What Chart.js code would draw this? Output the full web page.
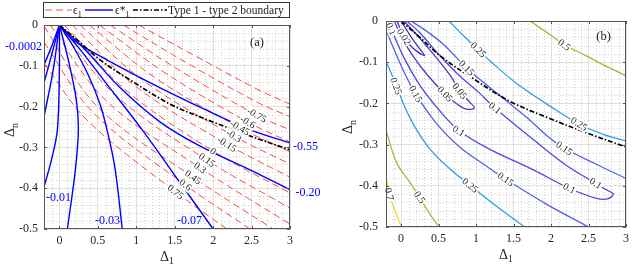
<!DOCTYPE html>
<html>
<head>
<meta charset="utf-8">
<script src="https://cdn.jsdelivr.net/npm/chart.js@4"></script>
<style>
  body { margin: 0; background: #fff; }
  #wrap { position: relative; width: 634px; height: 267px; }
  canvas { position: absolute; top: 0; }
</style>
</head>
<body>
<div id="wrap">
  <canvas id="chartA" width="320" height="267" style="left:0"></canvas>
  <canvas id="chartB" width="314" height="267" style="left:320px"></canvas>
</div>
<script>
// eixos (iguais nos dois paineis)
const xTicks = [0, 0.5, 1, 1.5, 2, 2.5, 3];
const yTicks = [0, -0.1, -0.2, -0.3, -0.4, -0.5];

// (a) contornos de eps1 - vermelho tracejado, pontos [Δ1, Δn]
const eps1Levels = [-1.05, -0.9, -0.75, -0.6, -0.45, -0.3, -0.15, 0, 0.15, 0.3, 0.45, 0.6, 0.75];
const eps1Lines = [
  [[1.03, 0], [1.77, -0.076], [2.57, -0.157], [3, -0.194]],
  [[0.83, 0], [1.64, -0.091], [2.57, -0.189], [3, -0.225]],
  [[0.66, 0], [1.51, -0.105], [2.57, -0.221], [3, -0.257]],
  [[0.52, 0], [1.38, -0.118], [2.45, -0.238], [3, -0.287]],
  [[0.39, 0], [1.25, -0.130], [2.35, -0.252], [3, -0.311]],
  [[0.27, 0], [1.12, -0.140], [2.27, -0.272], [3, -0.341]],
  [[0.17, 0], [0.99, -0.150], [2.18, -0.292], [3, -0.373]],
  [[0.065, 0], [0.86, -0.159], [2.0, -0.309], [3, -0.412]],
  [[-0.03, 0], [0.73, -0.172], [1.92, -0.331], [3, -0.449]],
  [[-0.12, 0], [0.60, -0.184], [1.83, -0.350], [3, -0.488]],
  [[-0.2, -0.003], [0.49, -0.199], [1.74, -0.373], [2.78, -0.5]],
  [[-0.2, -0.042], [0.43, -0.213], [1.64, -0.392], [2.48, -0.5]],
  [[-0.2, -0.093], [0.36, -0.233], [1.51, -0.409], [2.18, -0.5]]
];

// (a) contornos de eps*1 - azul continuo
const epsStarLines = [
  [[0, 0], [-0.09, -0.047], [-0.2, -0.098]],
  [[0, 0], [-0.09, -0.066], [-0.2, -0.142]],
  [[0, 0], [-0.08, -0.110], [-0.2, -0.225]],
  [[0, 0], [0, -0.110], [-0.026, -0.257], [-0.104, -0.331], [-0.2, -0.397]],
  [[0, 0], [0.117, -0.086], [0.221, -0.184], [0.247, -0.257], [0.208, -0.355], [0.104, -0.5]],
  [[0, 0], [0.169, -0.049], [0.377, -0.123], [0.532, -0.196], [0.636, -0.270], [0.727, -0.355], [0.818, -0.5]],
  [[0, 0], [0.273, -0.061], [0.597, -0.140], [1.078, -0.257], [1.545, -0.380], [2.0, -0.5]],
  [[0, 0], [0.338, -0.061], [0.792, -0.154], [1.312, -0.238], [1.831, -0.297], [2.481, -0.355], [3, -0.404]],
  [[0, 0], [0.182, -0.037], [0.623, -0.086], [1.312, -0.154], [1.961, -0.213], [2.481, -0.257], [3, -0.289]]
];
// rotulos azuis: texto, posicao, alinhamento
const epsStarNotes = [
  ['-0.0002', [-0.226, -0.054], 'right'],
  ['-0.01', [-0.174, -0.424], 'left'],
  ['-0.03', [0.463, -0.480], 'left'],
  ['-0.07', [1.529, -0.480], 'left'],
  ['-0.55', [3.04, -0.299], 'left'],
  ['-0.20', [3.07, -0.412], 'left']
];

// fronteira tipo 1 / tipo 2 (preto traco-ponto, nos dois paineis)
const boundary = [[0, 0], [0.247, -0.039], [0.532, -0.086], [0.922, -0.135], [1.442, -0.194], [1.961, -0.235], [2.481, -0.272], [3, -0.306]];

// (b) contornos por nivel
const c002 = [[-0.052, 0], [0.013, -0.028], [0.117, -0.058], [0.222, -0.075], [0.313, -0.084], [0.248, -0.067], [0.143, -0.041], [0.065, -0.019], [0, 0]];
const c005 = [[-0.091, 0], [0.013, -0.041], [0.156, -0.084], [0.352, -0.131], [0.587, -0.177], [0.743, -0.201], [0.874, -0.214], [0.978, -0.211], [0.900, -0.194], [0.782, -0.167], [0.639, -0.128], [0.430, -0.080], [0.222, -0.036], [0.039, 0]];
const c010 = [[-0.169, 0], [-0.078, -0.041], [0.039, -0.089], [0.248, -0.155], [0.508, -0.216], [0.769, -0.265], [1.160, -0.309], [1.773, -0.362], [2.243, -0.406], [2.595, -0.430], [2.751, -0.432], [2.830, -0.420], [2.699, -0.406], [2.595, -0.394], [2.203, -0.350], [1.773, -0.289], [1.252, -0.211], [1.030, -0.172], [0.769, -0.131], [0.508, -0.082], [0.248, -0.028], [0.078, 0]];
const c015lower = [[-0.2, -0.021], [-0.091, -0.070], [0.039, -0.123], [0.196, -0.177], [0.456, -0.245], [0.769, -0.304], [1.160, -0.355], [1.395, -0.384], [1.943, -0.445], [2.503, -0.5]];
const c015upper = [[0.130, 0], [0.313, -0.021], [0.574, -0.058], [0.874, -0.114], [1.160, -0.158], [1.421, -0.196], [1.682, -0.235], [1.982, -0.284], [2.177, -0.309], [2.595, -0.347], [3, -0.382]];
const c025lower = [[-0.2, -0.097], [-0.065, -0.155], [0.039, -0.204], [0.169, -0.252], [0.378, -0.309], [0.639, -0.357], [0.922, -0.399], [1.291, -0.452], [1.65, -0.5]];
const c025upper = [[0.639, 0], [0.834, -0.036], [1.030, -0.070], [1.199, -0.099], [1.551, -0.153], [1.982, -0.206], [2.373, -0.250], [2.725, -0.277], [3, -0.291]];
const c050lower = [[-0.2, -0.265], [-0.056, -0.345], [0.117, -0.391], [0.248, -0.428], [0.378, -0.467], [0.508, -0.5]];
const c050upper = [[1.721, 0], [2.008, -0.036], [2.177, -0.058], [2.464, -0.084], [2.725, -0.109], [3, -0.133]];
const c070 = [[-0.2, -0.382], [-0.130, -0.435], [-0.065, -0.467], [0.007, -0.5]];

// cores (parula) de cada contorno em (b)
const levelColors = { c002: '#4a2cb8', c005: '#4a36cc', c010: '#5049df', c015: '#4f62ea', c025: '#2aa0e6', c050: '#9dbf35', c070: '#e8e01c' };

// rotulos de (b): texto, linha, posicao
const bLabels = [
  ['0.1', c010, [-0.130, -0.019]],
  ['0.02', c002, [0.039, -0.038]],
  ['0.25', c025lower, [-0.065, -0.158]],
  ['0.15', c015lower, [0.196, -0.177]],
  ['0.05', c005, [0.587, -0.177]],
  ['0.05', c005, [0.782, -0.170]],
  ['0.15', c015upper, [0.874, -0.114]],
  ['0.25', c025upper, [1.030, -0.070]],
  ['0.1', c010, [1.252, -0.211]],
  ['0.5', c050upper, [2.177, -0.058]],
  ['0.25', c025upper, [2.373, -0.250]],
  ['0.1', c010, [0.769, -0.267]],
  ['0.15', c015upper, [2.177, -0.309]],
  ['0.15', c015lower, [1.395, -0.384]],
  ['0.25', c025lower, [0.922, -0.399]],
  ['0.1', c010, [2.243, -0.406]],
  ['0.1', c010, [2.595, -0.394]],
  ['0.5', c050lower, [0.248, -0.428]],
  ['0.7', c070, [-0.156, -0.42]]
];

const serif = '"Liberation Serif", "Times New Roman", "DejaVu Serif", serif';
const inkColor = '#262626';
const redColor = '#ff4a4a';
const blueColor = '#0000ff';

function fmt(v) { return String(Math.round(v * 100) / 100); }
const toXY = pts => pts.map(([x, y]) => ({ x, y }));

function lineDs(pts, color, width, dash, order) {
  return {
    data: toXY(pts), showLine: true, borderColor: color, borderWidth: width,
    borderDash: dash || [], pointRadius: 0, pointHoverRadius: 0,
    tension: 0.35, fill: false, order: order
  };
}

// texto com subscrito, alinhado a esquerda; retorna a largura
function subText(ctx, base, sub, x, y, size) {
  ctx.textAlign = 'left';
  ctx.textBaseline = 'alphabetic';
  ctx.font = size + 'px ' + serif;
  ctx.fillText(base, x, y);
  const w1 = ctx.measureText(base).width;
  ctx.font = (size * 0.7) + 'px ' + serif;
  ctx.fillText(sub, x + w1, y + size * 0.25);
  return w1 + ctx.measureText(sub).width;
}
function subWidth(ctx, base, sub, size) {
  ctx.font = size + 'px ' + serif;
  const w1 = ctx.measureText(base).width;
  ctx.font = (size * 0.7) + 'px ' + serif;
  return w1 + ctx.measureText(sub).width;
}

// grade secundaria pontilhada
const minorGrid = {
  id: 'minorGrid',
  beforeDatasetsDraw(chart) {
    const { ctx, chartArea: a, scales: { x, y } } = chart;
    ctx.save();
    ctx.strokeStyle = '#d2d2d2';
    ctx.lineWidth = 1;
    ctx.setLineDash([1, 2]);
    ctx.beginPath();
    for (let i = -1; i < 30; i++) {
      if (i % 5 === 0) continue;
      const px = Math.round(x.getPixelForValue(i / 10)) + 0.5;
      ctx.moveTo(px, a.top); ctx.lineTo(px, a.bottom);
    }
    for (let j = 1; j < 25; j++) {
      if (j % 5 === 0) continue;
      const py = Math.round(y.getPixelForValue(-j / 50)) + 0.5;
      ctx.moveTo(a.left, py); ctx.lineTo(a.right, py);
    }
    ctx.stroke();
    ctx.restore();
  }
};

// rotulos em linha, girados conforme o trecho mais proximo
function labelPlugin(items) {
  return {
    id: 'inlineLabels',
    afterDatasetsDraw(chart) {
      const { ctx, scales: { x, y } } = chart;
      items.forEach(([text, line, at]) => {
        const px = x.getPixelForValue(at[0]), py = y.getPixelForValue(at[1]);
        let best = Infinity, ang = 0;
        for (let i = 0; i < line.length - 1; i++) {
          const ax = x.getPixelForValue(line[i][0]), ay = y.getPixelForValue(line[i][1]);
          const bx = x.getPixelForValue(line[i + 1][0]), by = y.getPixelForValue(line[i + 1][1]);
          const dx = bx - ax, dy = by - ay;
          let t = ((px - ax) * dx + (py - ay) * dy) / (dx * dx + dy * dy || 1);
          t = Math.max(0, Math.min(1, t));
          const d = Math.hypot(ax + t * dx - px, ay + t * dy - py);
          if (d < best) { best = d; ang = Math.atan2(dy, dx); }
        }
        if (ang > Math.PI / 2) ang -= Math.PI;
        if (ang < -Math.PI / 2) ang += Math.PI;
        ctx.save();
        ctx.translate(px, py);
        ctx.rotate(ang);
        ctx.font = '10px ' + serif;
        const w = ctx.measureText(text).width;
        ctx.fillStyle = '#fff';
        ctx.fillRect(-w / 2 - 1, -5, w + 2, 10);
        ctx.fillStyle = inkColor;
        ctx.textAlign = 'center';
        ctx.textBaseline = 'middle';
        ctx.fillText(text, 0, 0.5);
        ctx.restore();
      });
    }
  };
}

// moldura, marcas de tick, titulos dos eixos e anotacoes
function framePlugin(cfg) {
  return {
    id: 'frame',
    afterDraw(chart) {
      const { ctx, chartArea: a, scales: { x, y } } = chart;
      ctx.save();
      ctx.strokeStyle = '#555';
      ctx.lineWidth = 1;
      ctx.strokeRect(a.left + 0.5, a.top + 0.5, a.width - 1, a.height - 1);
      ctx.beginPath();
      xTicks.forEach(v => {
        const px = Math.round(x.getPixelForValue(v)) + 0.5;
        ctx.moveTo(px, a.bottom); ctx.lineTo(px, a.bottom - 3);
        ctx.moveTo(px, a.top); ctx.lineTo(px, a.top + 3);
      });
      yTicks.forEach(v => {
        const py = Math.round(y.getPixelForValue(v)) + 0.5;
        ctx.moveTo(a.left, py); ctx.lineTo(a.left + 3, py);
        ctx.moveTo(a.right, py); ctx.lineTo(a.right - 3, py);
      });
      ctx.stroke();

      ctx.fillStyle = inkColor;
      // titulo do eixo x
      const cx = (a.left + a.right) / 2;
      subText(ctx, 'Δ', '1', cx - subWidth(ctx, 'Δ', '1', 14) / 2, a.bottom + 31.5, 14);
      // titulo do eixo y (girado)
      ctx.save();
      ctx.translate(a.left - cfg.yTitleOff, (a.top + a.bottom) / 2 + 3);
      ctx.rotate(-Math.PI / 2);
      subText(ctx, 'Δ', 'n', -subWidth(ctx, 'Δ', 'n', 14) / 2, 0, 14);
      ctx.restore();

      // letra do painel
      ctx.font = '12.5px ' + serif;
      ctx.textAlign = 'center';
      ctx.textBaseline = 'middle';
      ctx.fillText(cfg.tag, x.getPixelForValue(cfg.tagAt[0]), y.getPixelForValue(cfg.tagAt[1]));

      // anotacoes azuis
      (cfg.notes || []).forEach(([text, at, align]) => {
        ctx.fillStyle = blueColor;
        ctx.font = '12px ' + serif;
        ctx.textAlign = align;
        ctx.fillText(text, x.getPixelForValue(at[0]), y.getPixelForValue(at[1]));
      });

      if (cfg.legend) drawLegend(chart);
      ctx.restore();
    }
  };
}

function drawLegend(chart) {
  const { ctx, chartArea: a } = chart;
  const x0 = a.left - 1, y0 = 2, w = a.width, h = 15, ym = 10;
  ctx.save();
  ctx.fillStyle = '#fff';
  ctx.fillRect(x0, y0, w, h);
  ctx.strokeStyle = '#333';
  ctx.lineWidth = 1;
  ctx.setLineDash([]);
  ctx.strokeRect(x0 + 0.5, y0 + 0.5, w, h);
  const seg = (xa, xb, color, lw, dash) => {
    ctx.beginPath();
    ctx.strokeStyle = color; ctx.lineWidth = lw; ctx.setLineDash(dash);
    ctx.moveTo(x0 + xa, ym); ctx.lineTo(x0 + xb, ym);
    ctx.stroke();
  };
  seg(2, 29, redColor, 1, [7, 4]);
  seg(42, 70, blueColor, 1.4, []);
  seg(90, 124, '#000', 1.6, [5, 2, 1.5, 2]);
  ctx.fillStyle = inkColor;
  subText(ctx, 'ϵ', '1', x0 + 30, 14, 11.5);
  subText(ctx, 'ϵ*', '1', x0 + 72, 14, 11.5);
  ctx.font = '11.5px ' + serif;
  ctx.fillText('Type 1 - type 2 boundary', x0 + 125, 14);
  ctx.restore();
}

function scalesFor(yWidth, xHeight, yPad) {
  const tickFont = { family: serif, size: 12 };
  return {
    x: {
      type: 'linear', min: -0.2, max: 3,
      afterBuildTicks: s => { s.ticks = xTicks.map(v => ({ value: v })); },
      afterFit: s => { s.height = xHeight; },
      ticks: { callback: fmt, font: tickFont, color: inkColor, padding: 5, maxRotation: 0, autoSkip: false },
      grid: { color: '#e0e0e0', drawTicks: false },
      border: { display: false }
    },
    y: {
      type: 'linear', min: -0.5, max: 0,
      afterBuildTicks: s => { s.ticks = yTicks.map(v => ({ value: v })); },
      afterFit: s => { s.width = yWidth; },
      ticks: { callback: fmt, font: tickFont, color: inkColor, padding: yPad, autoSkip: false },
      grid: { color: '#e0e0e0', drawTicks: false },
      border: { display: false }
    }
  };
}

const baseOpts = {
  responsive: false, animation: false, devicePixelRatio: 1, events: [],
  plugins: { legend: { display: false }, tooltip: { enabled: false } }
};

// painel (a)
const labelsA = eps1Levels
  .map((lv, i) => [lv === 0 ? '0' : String(lv), eps1Lines[i], eps1Lines[i][2]])
  .filter((it, i) => Math.abs(eps1Levels[i]) <= 0.75);

new Chart(document.getElementById('chartA'), {
  type: 'scatter',
  data: {
    datasets: [
      lineDs(boundary, '#000', 1.7, [5, 2, 1.5, 2], 0),
      ...epsStarLines.map(l => lineDs(l, blueColor, 1.4, [], 1)),
      ...eps1Lines.map(l => lineDs(l, redColor, 1, [7, 4], 2))
    ]
  },
  options: {
    ...baseOpts,
    layout: { padding: { left: 0, right: 30, top: 25, bottom: 0 } },
    scales: scalesFor(44, 38, 6)
  },
  plugins: [minorGrid, labelPlugin(labelsA), framePlugin({ yTitleOff: 30, tag: '(a)', tagAt: [2.57, -0.044], notes: epsStarNotes, legend: true })]
});

// painel (b)
new Chart(document.getElementById('chartB'), {
  type: 'scatter',
  data: {
    datasets: [
      lineDs(boundary, '#000', 1.7, [5, 2, 1.5, 2], 0),
      lineDs(c002, levelColors.c002, 1.3, [], 1),
      lineDs(c005, levelColors.c005, 1.3, [], 1),
      lineDs(c010, levelColors.c010, 1.3, [], 1),
      lineDs(c015lower, levelColors.c015, 1.3, [], 1),
      lineDs(c015upper, levelColors.c015, 1.3, [], 1),
      lineDs(c025lower, levelColors.c025, 1.3, [], 1),
      lineDs(c025upper, levelColors.c025, 1.3, [], 1),
      lineDs(c050lower, levelColors.c050, 1.3, [], 1),
      lineDs(c050upper, levelColors.c050, 1.3, [], 1),
      lineDs(c070, levelColors.c070, 1.3, [], 1)
    ]
  },
  options: {
    ...baseOpts,
    layout: { padding: { left: 0, right: 3, top: 21, bottom: 0 } },
    scales: scalesFor(66, 40, 8)
  },
  plugins: [minorGrid, labelPlugin(bLabels), framePlugin({ yTitleOff: 34, tag: '(b)', tagAt: [2.70, -0.039] })]
});
</script>
</body>
</html>
